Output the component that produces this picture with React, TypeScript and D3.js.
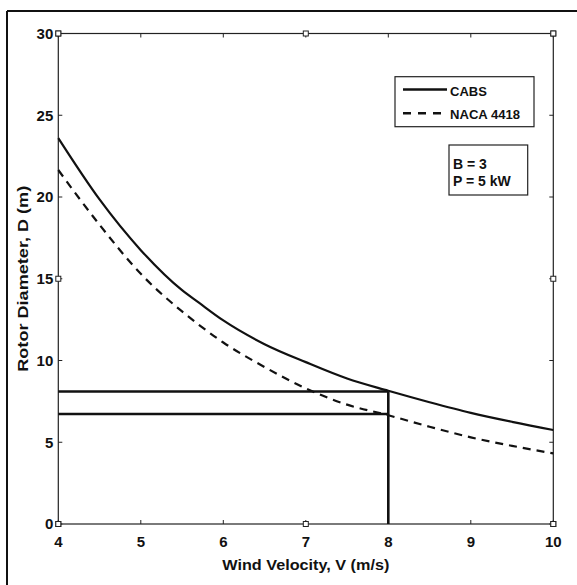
import React from "react";
import * as d3 from "d3";

const velocity = [4, 4.5, 5, 5.5, 5.7, 6, 6.5, 7, 7.5, 8, 8.5, 9, 9.5, 10];
const cabs = [23.6, 19.85, 16.75, 14.3, 13.55, 12.45, 11.0, 9.9, 8.9, 8.15, 7.45, 6.8, 6.25, 5.75];
const naca = [21.65, 18.3, 15.3, 13.0, 12.2, 11.1, 9.6, 8.3, 7.3, 6.65, 5.95, 5.3, 4.78, 4.32];
const xTicks = [4, 5, 6, 7, 8, 9, 10];
const yTicks = [0, 5, 10, 15, 20, 25, 30];
const refV = [8];
const refD = [8.1, 6.73];
const markerX = [4, 7, 10];
const markerY = [0, 15, 30];
const legendLabels = ["CABS", "NACA 4418"];
const infoLines = ["B = 3", "P = 5 kW"];

const W = 577;
const H = 585;
const left = 58.3;
const right = 553.3;
const top = 33.5;
const bottom = 524;

export default function App() {
  const x = d3.scaleLinear().domain([4, 10]).range([left, right]);
  const y = d3.scaleLinear().domain([0, 30]).range([bottom, top]);
  const line = d3
    .line<number>()
    .x((_, i) => x(velocity[i]))
    .y((d) => y(d))
    .curve(d3.curveMonotoneX);
  const font = "'Liberation Sans', Arial, sans-serif";
  const ink = "#111";
  const sq = 5;
  return (
    <svg
      width={W}
      height={H}
      style={{ position: "absolute", left: 0, top: 0, display: "block", background: "#fff" }}
      fontFamily={font}
    >
      <rect x={0} y={0} width={W} height={H} fill="#fff" />
      {/* outer frame */}
      <line x1={7} y1={11} x2={W + 5} y2={11} stroke={ink} strokeWidth={2} />
      <line x1={7} y1={11} x2={7} y2={H + 5} stroke={ink} strokeWidth={2} />

      {/* plot box */}
      <rect x={left} y={top} width={right - left} height={bottom - top} fill="none" stroke="#222" strokeWidth={1.2} />

      {/* ticks */}
      {xTicks.map((t) => (
        <g key={"xt" + t}>
          <line x1={x(t)} x2={x(t)} y1={bottom} y2={bottom - 4} stroke="#222" />
          <line x1={x(t)} x2={x(t)} y1={top} y2={top + 4} stroke="#222" />
          <text x={x(t)} y={bottom + 23} textAnchor="middle" fontSize={15} fontWeight="bold" fill={ink}>
            {t}
          </text>
        </g>
      ))}
      {yTicks.map((t) => (
        <g key={"yt" + t}>
          <line x1={left} x2={left + 4} y1={y(t)} y2={y(t)} stroke="#222" />
          <line x1={right} x2={right - 4} y1={y(t)} y2={y(t)} stroke="#222" />
          <text x={left - 5} y={y(t) + 5.3} textAnchor="end" fontSize={15} fontWeight="bold" fill={ink}>
            {t}
          </text>
        </g>
      ))}

      {/* reference lines */}
      {refD.map((d) => (
        <line key={"rd" + d} x1={x(4)} x2={x(refV[0])} y1={y(d)} y2={y(d)} stroke={ink} strokeWidth={2.6} />
      ))}
      <line x1={x(refV[0])} x2={x(refV[0])} y1={y(0)} y2={y(refD[0])} stroke={ink} strokeWidth={2.6} />

      {/* curves */}
      <path d={line(cabs) || ""} fill="none" stroke={ink} strokeWidth={2.2} />
      <path d={line(naca) || ""} fill="none" stroke={ink} strokeWidth={2.2} strokeDasharray="8,6" />

      {/* corner / marker squares */}
      {markerX.map((m) => (
        <g key={"mx" + m}>
          <rect x={x(m) - sq / 2} y={y(0) - sq / 2} width={sq} height={sq} fill="#fff" stroke="#222" strokeWidth={1} />
          <rect x={x(m) - sq / 2} y={y(30) - sq / 2} width={sq} height={sq} fill="#fff" stroke="#222" strokeWidth={1} />
        </g>
      ))}
      {markerY.map((m) => (
        <g key={"my" + m}>
          <rect x={x(4) - sq / 2} y={y(m) - sq / 2} width={sq} height={sq} fill="#fff" stroke="#222" strokeWidth={1} />
          <rect x={x(10) - sq / 2} y={y(m) - sq / 2} width={sq} height={sq} fill="#fff" stroke="#222" strokeWidth={1} />
        </g>
      ))}

      {/* legend */}
      <rect x={395} y={76.7} width={139} height={50} fill="#fff" stroke="#222" strokeWidth={1.2} />
      <line x1={403} x2={447} y1={89.5} y2={89.5} stroke={ink} strokeWidth={2.4} />
      <line x1={403} x2={447} y1={113.3} y2={113.3} stroke={ink} strokeWidth={2.4} strokeDasharray="8,7" />
      <text x={450} y={95.5} fontSize={13} fontWeight="bold" fill={ink}>
        {legendLabels[0]}
      </text>
      <text x={450} y={118.5} fontSize={13} fontWeight="bold" fill={ink} textLength={70} lengthAdjust="spacingAndGlyphs">
        {legendLabels[1]}
      </text>

      {/* info box */}
      <rect x={449} y={145} width={78.7} height={50} fill="#fff" stroke="#222" strokeWidth={1.2} />
      <text x={453} y={168.5} fontSize={14} fontWeight="bold" fill={ink}>
        {infoLines[0]}
      </text>
      <text x={453} y={185.5} fontSize={14} fontWeight="bold" fill={ink}>
        {infoLines[1]}
      </text>

      {/* axis titles */}
      <text
        x={(left + right) / 2}
        y={569.5}
        textAnchor="middle"
        fontSize={15}
        fontWeight="bold"
        fill={ink}
        textLength={167}
        lengthAdjust="spacingAndGlyphs"
      >
        Wind Velocity, V (m/s)
      </text>
      <text
        transform={`translate(28, ${(top + bottom) / 2}) rotate(-90)`}
        textAnchor="middle"
        fontSize={15}
        fontWeight="bold"
        fill={ink}
        textLength={186}
        lengthAdjust="spacingAndGlyphs"
      >
        Rotor Diameter, D (m)
      </text>
    </svg>
  );
}
